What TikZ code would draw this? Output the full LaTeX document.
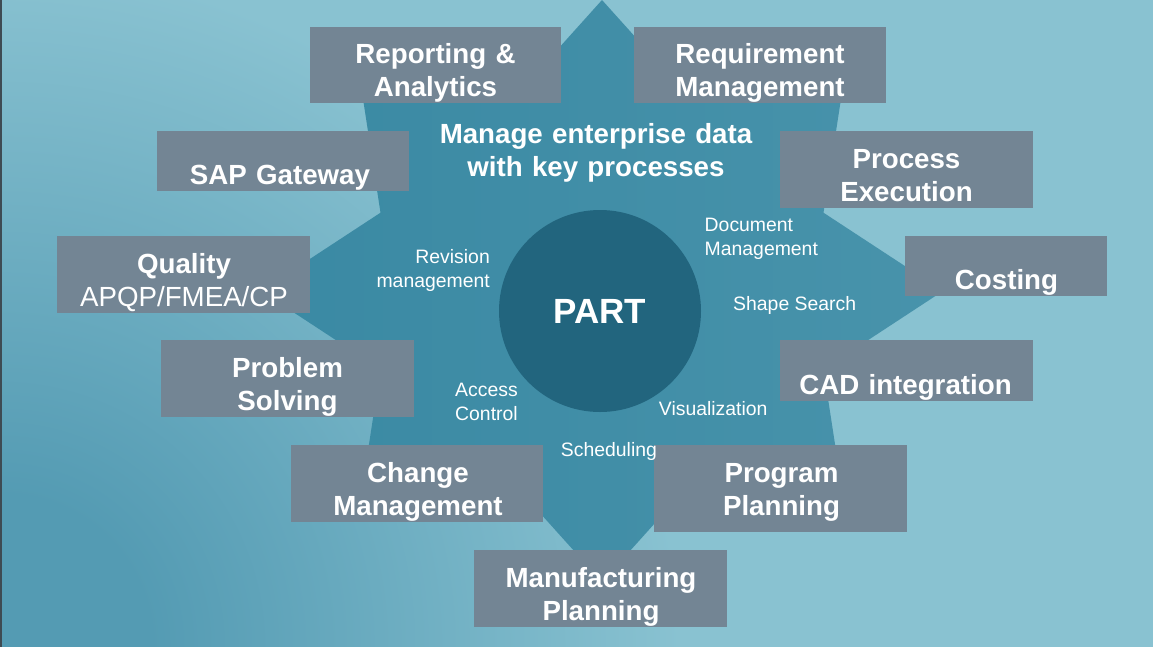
\documentclass[tikz,border=0pt]{standalone}
\usepackage{fontspec}
\setmainfont{Liberation Sans}
\definecolor{bglight}{HTML}{89C2D1}
\definecolor{bgdark}{HTML}{549BB3}
\definecolor{starL}{HTML}{3A89A3}
\definecolor{starR}{HTML}{4893AB}
\definecolor{partc}{HTML}{22657E}
\definecolor{boxc}{HTML}{738594}
\definecolor{edgec}{HTML}{3E4B53}
\pgfdeclareradialshading{bgglow}{\pgfpoint{0bp}{0bp}}{color(0bp)=(bgdark); color(5.5bp)=(bgdark); color(25bp)=(bglight); color(50bp)=(bglight)}
\tikzset{
  tile/.style={fill=boxc, draw=none, inner sep=0pt, outer sep=0pt},
  tiletext/.style={text=white, inner sep=0pt, anchor=base, align=center,
    text width=250pt, font=\bfseries\fontsize{27.7}{33.5}\selectfont},
  smalltext/.style={text=white, inner sep=0pt,
    font=\fontsize{19.4}{24}\selectfont},
}
\begin{document}
\begin{tikzpicture}[x=1pt,y=-1pt]
\useasboundingbox (0,0) rectangle (1153,646);
% background
\fill[bglight] (-6,-6) rectangle (1159,652);
\begin{scope}
  \clip (-6,-6) rectangle (1159,652);
  \shade[shading=bgglow] (0,646) circle (680pt);
\end{scope}
\fill[edgec] (-6,-6) rectangle (1.5,652);
% eight-pointed star
\shade[left color=starL, right color=starR]
  (602,0) -- (693.7,102) -- (843.1,85.2) -- (823.5,212.7) -- (943,291)
  -- (823.5,369.3) -- (843.1,496.8) -- (693.7,480) -- (602,582)
  -- (510.3,480) -- (360.9,496.8) -- (380.5,369.3) -- (261,291)
  -- (380.5,212.7) -- (360.9,85.2) -- (510.3,102) -- cycle;
% central circle
\node[circle, fill=partc, minimum size=202pt, inner sep=0pt, text=white,
  font=\bfseries\fontsize{35}{40}\selectfont] (part) at (600,311) {PART};
% tiles
\node[tile, minimum width=251pt, minimum height=76pt] (rep)  at (435.5,65) {};
\node[tile, minimum width=252pt, minimum height=76pt] (req)  at (760,65) {};
\node[tile, minimum width=252pt, minimum height=60pt] (sap)  at (283,161) {};
\node[tile, minimum width=253pt, minimum height=76.7pt] (proc) at (906.5,169.3) {};
\node[tile, minimum width=253pt, minimum height=76.7pt] (qual) at (183.5,274.3) {};
\node[tile, minimum width=202pt, minimum height=59.7pt] (cost) at (1006,265.8) {};
\node[tile, minimum width=253pt, minimum height=76.7pt] (prob) at (287.5,378.3) {};
\node[tile, minimum width=253pt, minimum height=60.7pt] (cad)  at (906.5,370.3) {};
\node[tile, minimum width=252pt, minimum height=76.7pt] (chg)  at (417,483.3) {};
\node[tile, minimum width=253pt, minimum height=86.7pt] (prog) at (780.5,488.3) {};
\node[tile, minimum width=253pt, minimum height=76.7pt] (mfg)  at (600.5,588.3) {};
% tile texts
\node[tiletext] (t-rep)  at (435.5,63) {Reporting \&\\Analytics};
\node[tiletext] (t-req)  at (760,63) {Requirement\\Management};
\node[tiletext] (t-sap)  at (280,184) {SAP Gateway};
\node[tiletext] (t-proc) at (906.5,168) {Process\\Execution};
\node[tiletext] (t-qual) at (184,273) {Quality\\{\mdseries APQP/FMEA/CP}};
\node[tiletext] (t-cost) at (1006.5,289) {Costing};
\node[tiletext] (t-prob) at (287.5,377) {Problem\\Solving};
\node[tiletext] (t-cad)  at (905.5,394) {CAD integration};
\node[tiletext] (t-chg)  at (418,482) {Change\\Management};
\node[tiletext] (t-prog) at (781.5,482) {Program\\Planning};
\node[tiletext] (t-mfg)  at (601,587) {Manufacturing\\Planning};
\node[tiletext, text width=360pt] (title) at (596,143) {Manage enterprise data\\with key processes};
% small labels
\node[smalltext, anchor=base east, align=right, text width=150pt] (l-rev) at (490,263) {Revision\\management};
\node[smalltext, anchor=base west, align=left, text width=150pt] (l-doc) at (704.5,231) {Document\\Management};
\node[smalltext, anchor=base west] (l-shape) at (733,310) {Shape Search};
\node[smalltext, anchor=base west, align=left, text width=100pt] (l-acc) at (455,396) {Access\\Control};
\node[smalltext, anchor=base west] (l-vis) at (658.7,415) {Visualization};
\node[smalltext, anchor=base west] (l-sch) at (560.7,456.7) {Scheduling};
\end{tikzpicture}
\end{document}
